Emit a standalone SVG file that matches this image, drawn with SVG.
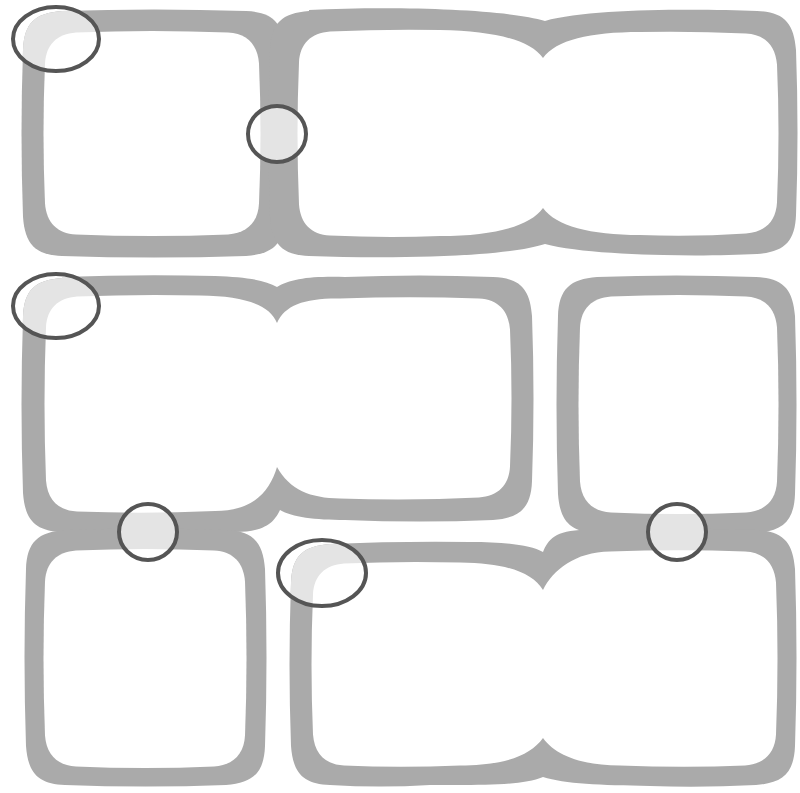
<svg xmlns="http://www.w3.org/2000/svg" width="800" height="793" viewBox="0 0 800 793">
<style>
.band{fill:#aaaaaa}
.hole{fill:#ffffff}
.glow{fill:#e4e4e4}
.ring{fill:none;stroke:#555555;stroke-width:4}
</style>
<defs>
<path id="oA" d="M62,11 q92,-3 184,0 c27,1 37,12 39,39 q3,83.5 0,167 c-1,27 -12,37 -39,39 q-92,3 -184,0 c-27,-1 -37,-12 -39,-39 q-3,-83.5 0,-167 c1,-27 12,-37 39,-39 Z"/>
<path id="oBC" d="M309,10 C395,6 505,9 545,21 C590,8 700,9 757,11 c27,1 37,12 39,39 q3,82.5 0,165 c-1,27 -12,37 -39,39 C700,257 590,256 545,244 C505,257 395,259 309,256 c-27,-1 -37,-12 -39,-39 q-3,-83.5 0,-167 c1,-27 12,-37 39,-39 Z"/>
<path id="oDE" d="M62,277 Q140,274 215,276 C245,277 265,280 277,287 C290,279 310,276 345,277 Q420,274 493,277 c27,1 37,12 39,39 q3,82.5 0,165 c-1,27 -12,37 -39,39 Q420,523 345,520 C315,520 292,517 280,510 C275,520 268,532 235,532 Q150,535 62,532 c-27,-1 -37,-12 -39,-39 q-3,-88 0,-176 c1,-27 12,-37 39,-39 Z"/>
<path id="oF" d="M597,277 q79.5,-3 159,0 c27,1 37,12 39,39 q3,89 0,178 c-1,27 -12,37 -39,39 q-79.5,3 -159,0 c-27,-1 -37,-12 -39,-39 q-3,-89 0,-178 c1,-27 12,-37 39,-39 Z"/>
<path id="oG" d="M65,530 q80.5,-3 161,0 c27,1 37,12 39,39 q3,88.5 0,177 c-1,27 -12,37 -39,39 q-80.5,3 -161,0 c-27,-1 -37,-12 -39,-39 q-3,-88.5 0,-177 c1,-27 12,-37 39,-39 Z"/>
<path id="oHI" d="M330,544 Q400,541 470,542 C505,542 530,545 543,552 C548,540 555,530 585,530 Q670,527 756,530 c27,1 37,12 39,39 q3,88.5 0,177 c-1,27 -12,37 -39,39 Q700,788 650,786 C600,785 565,784 543,777 C521,786 480,785 430,785 Q380,788 330,785 c-27,-1 -37,-12 -39,-39 q-3,-81 0,-163 c1,-27 12,-37 39,-39 Z"/>
<clipPath id="bandClip">
<use href="#oA"/><use href="#oBC"/><use href="#oDE"/><use href="#oF"/><use href="#oG"/><use href="#oHI"/>
</clipPath>
</defs>
<rect width="800" height="793" fill="#ffffff"/>
<g id="bands" class="band">
<use id="band-A" href="#oA"/>
<use id="band-BC" href="#oBC"/>
<use id="band-DE" href="#oDE"/>
<use id="band-F" href="#oF"/>
<use id="band-G" href="#oG"/>
<use id="band-HI" href="#oHI"/>
</g>
<g id="highlights" class="glow" clip-path="url(#bandClip)">
<ellipse cx="56" cy="39" rx="43" ry="32"/>
<ellipse cx="277" cy="134" rx="29" ry="28"/>
<ellipse cx="56" cy="306" rx="43" ry="32"/>
<ellipse cx="148" cy="532" rx="29" ry="28"/>
<ellipse cx="322" cy="573" rx="44" ry="33"/>
<ellipse cx="677" cy="532" rx="29" ry="28"/>
</g>
<g id="holes" class="hole">
<path id="hole-A" d="M76,32.5 q76,-3 152,0 c19,1 29.5,12 31,31 q3,70 0,140 c-1,19 -12,29.5 -31,31 q-76,3 -152,0 c-19,-1 -29.5,-12 -31,-31 q-3,-70 0,-140 c1,-19 12,-29.5 31,-31 Z"/>
<path id="hole-BC" d="M330,31.5 Q385,29 440,30 C495,31 530,40 543,58 C556,40 590,32 640,32 Q693,31 746,33.5 c19,1 29.5,12 31,31 q3,69 0,138 c-1,19 -12,29.5 -31,31 Q693,237 640,235 C590,235 556,226 543,208 C530,226 495,236 440,236 Q385,238 330,235.5 c-19,-1 -29.5,-12 -31,-31 q-3,-71 0,-142 c1,-19 12,-29.5 31,-31 Z"/>
<path id="hole-DE" d="M77,296.5 Q140,294 200,295.5 C245,296 270,305 277,323 C285,305 305,298 340,298.5 Q410,296 479,298.5 c19,1 29.5,12 31,31 q3,68.5 0,137 c-1,19 -12,29.5 -31,31 Q410,501 340,498.5 C310,498 290,490 277,467 C270,490 255,511 215,511 Q145,514 77,511.5 c-19,-1 -29.5,-12 -31,-31 q-3,-76.5 0,-153 c1,-19 12,-29.5 31,-31 Z"/>
<path id="hole-F" d="M611,296.5 q67.5,-3 135,0 c19,1 29.5,12 31,31 q3,77 0,154 c-1,19 -12,29.5 -31,31 q-67.5,3 -135,0 c-19,-1 -29.5,-12 -31,-31 q-3,-77 0,-154 c1,-19 12,-29.5 31,-31 Z"/>
<path id="hole-G" d="M76,550.5 q69,-3 138,0 c19,1 29.5,12 31,31 q3,77 0,154 c-1,19 -12,29.5 -31,31 q-69,3 -138,0 c-19,-1 -29.5,-12 -31,-31 q-3,-77 0,-154 c1,-19 12,-29.5 31,-31 Z"/>
<path id="hole-HI" d="M344,563.5 Q400,561 460,562.5 C505,563 532,572 543,590 C553,570 575,552 610,551.5 Q680,549 745,551.5 c19,1 29.5,12 31,31 q3,76 0,152 c-1,19 -12,29.5 -31,31 Q685,768 620,765.5 C580,765 555,755 543,738 C530,756 505,765 460,765.5 Q400,768 344,765.5 c-19,-1 -29.5,-12 -31,-31 q-3,-70 0,-140 c1,-19 12,-29.5 31,-31 Z"/>
</g>
<g id="rings" class="ring">
<ellipse id="ring-1" cx="56" cy="39" rx="43" ry="32"/>
<ellipse id="ring-2" cx="277" cy="134" rx="29" ry="28"/>
<ellipse id="ring-3" cx="56" cy="306" rx="43" ry="32"/>
<ellipse id="ring-4" cx="148" cy="532" rx="29" ry="28"/>
<ellipse id="ring-5" cx="322" cy="573" rx="44" ry="33"/>
<ellipse id="ring-6" cx="677" cy="532" rx="29" ry="28"/>
</g>
</svg>
